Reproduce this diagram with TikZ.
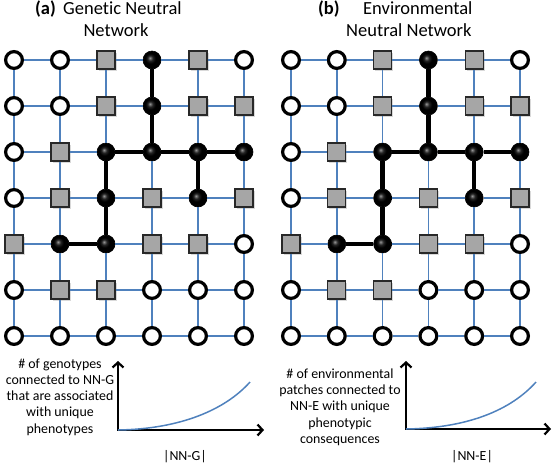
\documentclass[tikz,border=0pt]{standalone}
\usepackage{fontspec}
\setmainfont{Carlito}[Ligatures=NoCommon]
\usetikzlibrary{shadows,arrows.meta}
\definecolor{gridblue}{RGB}{79,129,189}
\definecolor{sqgray}{RGB}{166,166,166}
\definecolor{sqedge}{RGB}{40,40,40}
\pgfdeclareradialshading{blackball}{\pgfpoint{-6bp}{6bp}}{color(0bp)=(black!40); color(7bp)=(black!85); color(14bp)=(black); color(50bp)=(black)}
\def\gridlayout{{O,O,S,B,S,O},{O,O,S,B,S,S},{O,S,B,B,B,B},{O,S,B,S,B,S},{S,B,B,S,S,O},{O,S,S,O,O,O},{O,O,O,O,O,O}}
\begin{document}
\begin{tikzpicture}[x=1pt,y=-1pt,
  cO/.style={circle,draw=black,line width=3.2pt,fill=white,minimum size=16.8pt,inner sep=0pt},
  cS/.style={rectangle,draw=sqedge,line width=1.2pt,fill=sqgray,minimum size=18pt,inner sep=0pt,
    drop shadow={shadow xshift=1.5pt,shadow yshift=-1.5pt,opacity=0.3}},
  cB/.style={circle,shading=blackball,draw=black,line width=0.6pt,minimum size=18pt,inner sep=0pt},
  gridline/.style={draw=gridblue,line width=1.5pt},
  netline/.style={draw=black,line width=4.5pt},
  axis/.style={draw=black,line width=2.2pt,line join=miter,
    {Straight Barb[length=5pt,width=11pt]}-{Straight Barb[length=5pt,width=11pt]}},
  curve/.style={draw=gridblue,line width=1.5pt},
  title/.style={font=\fontsize{18.5}{22}\selectfont,inner sep=0pt},
  axlabel/.style={font=\fontsize{13.9}{16.3}\selectfont,inner sep=0pt,align=center}
]
\useasboundingbox (0,0) rectangle (553,464);

% grids
\foreach \g/\xo/\dx in {L/14/46,R/291/45.8} {
  \foreach \row [count=\r] in \gridlayout {
    \foreach \t [count=\c] in \row {
      \node[c\t] (\g-\r-\c) at ({\xo+\dx*(\c-1)},{60+46*(\r-1)}) {};
    }
  }
}
\foreach \g in {L,R} {
  \foreach \r in {1,...,7} {
    \foreach \c [evaluate=\c as \cn using int(\c+1)] in {1,...,5} {
      \draw[gridline] (\g-\r-\c) -- (\g-\r-\cn);
    }
  }
  \foreach \r [evaluate=\r as \rn using int(\r+1)] in {1,...,6} {
    \foreach \c in {1,...,6} {
      \draw[gridline] (\g-\r-\c) -- (\g-\rn-\c);
    }
  }
  \foreach \a/\b in {1-4/2-4,2-4/3-4,3-3/3-4,3-4/3-5,3-5/3-6,3-3/4-3,4-3/5-3,5-2/5-3,3-5/4-5} {
    \draw[netline] (\g-\a) -- (\g-\b);
  }
}

% titles
\node[title,anchor=base west] (ta) at (35,14) {\bfseries (a)};
\node[title,anchor=base west] (ta1) at (63,14) {Genetic Neutral};
\node[title,anchor=base] (ta2) at (116,36) {Network};
\node[title,anchor=base west] (tb) at (318,14) {\bfseries (b)};
\node[title,anchor=base west] (tb1) at (363,14) {Environmental};
\node[title,anchor=base west] (tb2) at (346,36) {Neutral Network};

% left plot
\coordinate (lo) at (118,430);
\coordinate (ly) at (118,361);
\coordinate (lx) at (264,430);
\coordinate (lc) at (250,382);
\draw[axis] (ly) -- (lo) -- (lx);
\draw[curve] (lo) .. controls (180,429) and (225,410) .. (lc);
\node[axlabel] (lt) at (60,397) {\# of genotypes\\connected to NN-G\\that are associated\\with unique\\phenotypes};
\node[axlabel,anchor=base] (lxl) at (185,460) {|NN-G|};

% right plot
\coordinate (ro) at (406,429);
\coordinate (ry) at (406,361);
\coordinate (rx) at (551,429);
\coordinate (rc) at (536,382);
\draw[axis] (ry) -- (ro) -- (rx);
\draw[curve] (ro) .. controls (468,428) and (511,410) .. (rc);
\node[axlabel] (rt) at (340,407) {\# of environmental\\patches connected to\\NN-E with unique\\phenotypic\\consequences};
\node[axlabel,anchor=base] (rxl) at (472,460) {|NN-E|};
\end{tikzpicture}
\end{document}
